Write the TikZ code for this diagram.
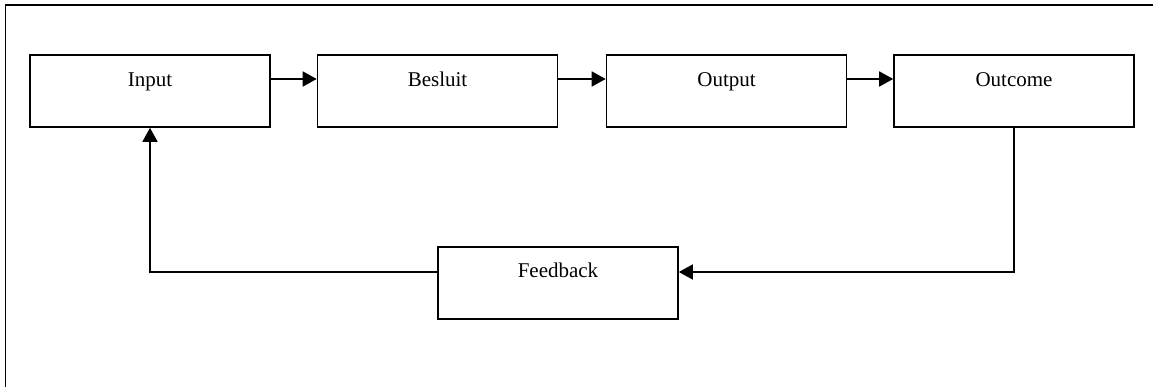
\documentclass[tikz,border=0pt]{standalone}
\usepackage{fontspec}
\setmainfont{Liberation Serif}
\usetikzlibrary{arrows.meta}
\tikzset{
  box/.style={draw, line width=1.6pt, rectangle, minimum width=240pt, minimum height=72pt, inner sep=0pt},
  txt/.style={anchor=base, inner sep=0pt, font=\fontsize{21}{25}\selectfont},
  conn/.style={line width=1.6pt, -{Triangle[length=14pt,width=15pt]}},
  frame/.style={line width=1.6pt}
}
\begin{document}
\begin{tikzpicture}[x=1pt, y=-1pt]
  \useasboundingbox (0,0) rectangle (1153,387);
  % open frame: top and left edges
  \draw[frame] (5.5,387) -- (5.5,5) -- (1153,5);

  % boxes
  \node[box] (inp) at (150,91) {};
  \node[box] (bes) at (437.5,91) {};
  \node[box] (out) at (726.5,91) {};
  \node[box] (outc) at (1014,91) {};
  \node[box] (fb) at (558,283) {};

  % labels near the top of each box
  \node[txt] (tinp) at ([yshift=-32pt]inp.north) {Input};
  \node[txt] (tbes) at ([yshift=-32pt]bes.north) {Besluit};
  \node[txt] (tout) at ([yshift=-32pt]out.north) {Output};
  \node[txt] (toutc) at ([yshift=-32pt]outc.north) {Outcome};
  \node[txt] (tfb) at ([yshift=-31pt]fb.north) {Feedback};

  % forward chain
  \draw[conn] ([yshift=12pt]inp.east) -- ([yshift=12pt]bes.west);
  \draw[conn] ([yshift=12pt]bes.east) -- ([yshift=12pt]out.west);
  \draw[conn] ([yshift=12pt]out.east) -- ([yshift=12pt]outc.west);

  % feedback loop
  \draw[conn] (outc.south) |- ([yshift=11pt]fb.east);
  \draw[conn] ([yshift=11pt]fb.west) -| (inp.south);
\end{tikzpicture}
\end{document}
